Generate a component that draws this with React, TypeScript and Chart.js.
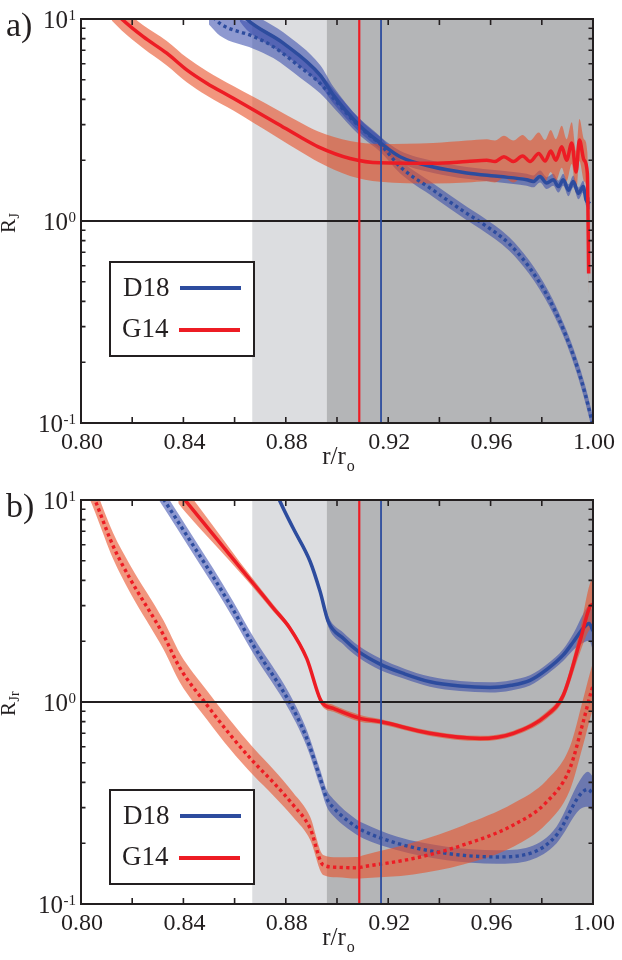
import React, { useEffect, useRef } from "react";
import { Chart, registerables } from "chart.js";
Chart.register(...registerables);

// ---------------- data ----------------
const xMin = 0.8;
const xMax = 1.0;
const yMin = 0.1;
const yMax = 10;
const xTickValues = [0.8, 0.82, 0.84, 0.86, 0.88, 0.9, 0.92, 0.94, 0.96, 0.98, 1.0];
const xLabelValues = [0.8, 0.84, 0.88, 0.92, 0.96, 1.0];
const xLabelTexts = ["0.80", "0.84", "0.88", "0.92", "0.96", "1.00"];
const yDecades = [0.1, 1, 10];
const yExponents = ["-1", "0", "1"];
const yMinorMultipliers = [2, 3, 4, 5, 6, 7, 8, 9];
const seriesNames = ["D18", "G14"];
const lightZone = [0.8669, 0.896];
const darkZone = [0.896, 1.0];
const g14Marker = 0.9087;
const d18Marker = 0.9172;
const unityLevel = 1;

// Panel a) R_J
const aG14SolidR = [0.812, 0.8159, 0.8243, 0.8335, 0.8413, 0.8491, 0.8595, 0.8673, 0.8764, 0.8855, 0.8927, 0.9051, 0.9168, 0.9376, 0.9507, 0.9585, 0.9617, 0.9652, 0.9689, 0.9725, 0.9754, 0.9788, 0.9813, 0.9835, 0.9855, 0.9878, 0.9897, 0.9917, 0.9934, 0.9947, 0.9965, 0.9978, 0.9983];
const aG14SolidV = [11.2, 10, 8.17, 6.77, 5.6, 4.81, 4.05, 3.55, 3.05, 2.61, 2.33, 2.04, 1.94, 1.93, 1.97, 2.0, 1.97, 2.08, 1.97, 2.1, 1.97, 2.16, 1.98, 2.22, 2.0, 2.33, 2.0, 2.43, 1.75, 2.52, 2.0, 1.72, 0.55];
const aG14SolidBand = [1.14, 1.14, 1.14, 1.15, 1.15, 1.15, 1.15, 1.16, 1.17, 1.18, 1.19, 1.22, 1.24, 1.26, 1.27, 1.27, 1.27, 1.27, 1.27, 1.27, 1.27, 1.27, 1.27, 1.27, 1.27, 1.27, 1.27, 1.27, 1.27, 1.27, 1.27, 1.27, 1.27];

const aD18SolidR = [0.862, 0.8647, 0.879, 0.8934, 0.8986, 0.9087, 0.9172, 0.9246, 0.9376, 0.9507, 0.9637, 0.9741, 0.9767, 0.9793, 0.9819, 0.9845, 0.9865, 0.9884, 0.9904, 0.9923, 0.9943, 0.9962, 0.9973, 0.9988];
const aD18SolidV = [11, 10, 7.6, 5.28, 4.2, 2.98, 2.42, 2.08, 1.85, 1.73, 1.66, 1.6, 1.57, 1.66, 1.54, 1.6, 1.48, 1.6, 1.42, 1.57, 1.37, 1.48, 1.27, 1.22];
const aD18SolidBand = [1.13, 1.13, 1.13, 1.12, 1.1, 1.08, 1.07, 1.07, 1.07, 1.07, 1.07, 1.07, 1.07, 1.07, 1.07, 1.07, 1.07, 1.07, 1.07, 1.07, 1.07, 1.07, 1.07, 1.07];

const aD18DotR = [0.85, 0.8543, 0.8673, 0.8751, 0.8855, 0.8934, 0.8986, 0.9087, 0.9172, 0.9246, 0.9376, 0.9507, 0.9559, 0.9673, 0.9751, 0.9829, 0.9891, 0.9938, 0.9969, 0.9998];
const aD18DotV = [10.8, 9.5, 8.2, 7.3, 5.8, 4.8, 4.05, 2.93, 2.38, 1.86, 1.42, 1.09, 0.99, 0.77, 0.59, 0.41, 0.277, 0.19, 0.14, 0.1];
const aD18DotBand = [1.15, 1.15, 1.15, 1.14, 1.13, 1.12, 1.11, 1.1, 1.09, 1.08, 1.08, 1.08, 1.08, 1.08, 1.08, 1.08, 1.08, 1.09, 1.1, 1.1];

// Panel b) R_Jr
const bD18SolidR = [0.875, 0.8775, 0.8829, 0.8895, 0.8934, 0.8966, 0.9025, 0.9083, 0.9168, 0.9263, 0.9363, 0.948, 0.9598, 0.968, 0.9754, 0.982, 0.9884, 0.9925, 0.9962, 0.9985, 1.0];
const bD18SolidV = [12, 10, 7.24, 4.96, 3.52, 2.5, 2.06, 1.78, 1.54, 1.38, 1.26, 1.2, 1.18, 1.21, 1.28, 1.45, 1.71, 2.0, 2.32, 2.45, 2.25];
const bD18SolidBand = [1.03, 1.03, 1.03, 1.03, 1.04, 1.06, 1.07, 1.07, 1.07, 1.06, 1.06, 1.06, 1.06, 1.06, 1.06, 1.06, 1.07, 1.1, 1.18, 1.22, 1.25];

const bG14SolidR = [0.838, 0.8406, 0.8543, 0.8621, 0.8673, 0.8751, 0.8816, 0.8882, 0.894, 0.8986, 0.909, 0.9168, 0.9363, 0.9559, 0.9689, 0.9819, 0.9884, 0.9949, 0.9988, 1.0];
const bG14SolidV = [11.0, 10, 6.14, 4.64, 3.86, 2.92, 2.32, 1.64, 1.0, 0.93, 0.83, 0.8, 0.7, 0.66, 0.7, 0.86, 1.08, 2.0, 2.97, 3.05];
const bG14SolidBand = [1.14, 1.14, 1.09, 1.06, 1.05, 1.04, 1.03, 1.03, 1.04, 1.04, 1.04, 1.03, 1.03, 1.03, 1.03, 1.04, 1.06, 1.14, 1.3, 1.32];

const bD18DotR = [0.8295, 0.8325, 0.8426, 0.8517, 0.8595, 0.8673, 0.8816, 0.8882, 0.8934, 0.896, 0.8986, 0.9077, 0.9103, 0.9233, 0.9429, 0.9624, 0.9754, 0.9858, 0.9949, 0.998, 1.0];
const bD18DotV = [11.5, 10, 6.3, 4.15, 2.85, 1.91, 0.99, 0.66, 0.42, 0.333, 0.3, 0.24, 0.23, 0.2, 0.178, 0.171, 0.178, 0.22, 0.347, 0.37, 0.35];
const bD18DotBand = [1.1, 1.1, 1.1, 1.1, 1.1, 1.1, 1.1, 1.1, 1.1, 1.1, 1.1, 1.09, 1.09, 1.08, 1.08, 1.08, 1.08, 1.1, 1.18, 1.22, 1.22];

const bG14DotR = [0.803, 0.8055, 0.8126, 0.8191, 0.8322, 0.8387, 0.8491, 0.8582, 0.8673, 0.8751, 0.8829, 0.8895, 0.8946, 0.9, 0.9077, 0.9103, 0.9298, 0.9493, 0.9689, 0.9819, 0.991, 0.9962, 0.9995, 1.0];
const bG14DotV = [12, 10, 5.9, 4.09, 2.15, 1.47, 0.97, 0.69, 0.507, 0.4, 0.309, 0.237, 0.156, 0.152, 0.151, 0.153, 0.168, 0.196, 0.246, 0.32, 0.47, 0.8, 1.15, 1.2];
const bG14DotBand = [1.15, 1.15, 1.16, 1.17, 1.18, 1.18, 1.18, 1.18, 1.17, 1.16, 1.15, 1.14, 1.12, 1.12, 1.13, 1.14, 1.2, 1.25, 1.28, 1.28, 1.28, 1.3, 1.3, 1.3];

// ---------------- styles ----------------
const INK = "#231f20";
const BLUE = "#2d4c9e";
const RED = "#ed1c24";
const BLUE_BAND = "rgba(50,70,170,0.55)";
const RED_BAND = "rgba(232,80,40,0.6)";
const LIGHT = "#dcdde0";
const DARK = "#b4b5b7";
const SERIF = '"Liberation Serif", "Times New Roman", Times, serif';

type Series = { r: number[]; v: number[]; band: number[]; color: string; bandColor: string; dotted: boolean };

function buildDatasets(list: Series[]) {
  const ds: any[] = [];
  list.forEach((s) => {
    const hi = s.r.map((x, i) => ({ x, y: s.v[i] * s.band[i] }));
    const lo = s.r.map((x, i) => ({ x, y: s.v[i] / s.band[i] }));
    ds.push({ data: hi, fill: "+1", backgroundColor: s.bandColor, borderWidth: 0, pointRadius: 0, cubicInterpolationMode: "monotone", order: 10, clip: 0 });
    ds.push({ data: lo, fill: false, borderWidth: 0, pointRadius: 0, cubicInterpolationMode: "monotone", order: 10, clip: 0 });
  });
  list.forEach((s) => {
    ds.push({
      data: s.r.map((x, i) => ({ x, y: s.v[i] })),
      fill: false,
      borderColor: s.color,
      borderWidth: s.dotted ? 3.4 : 3.5,
      borderDash: s.dotted ? [3.3, 3.3] : [],
      borderCapStyle: "butt",
      pointRadius: 0,
      cubicInterpolationMode: "monotone",
      order: 1,
      clip: 0,
    });
  });
  return ds;
}

type PanelCfg = {
  tag: string;
  sub: string;
  series: Series[];
  padTop: number;
  padBottom: number;
  legendTop: number; // relative to chart area top
};

function decoPlugin(p: PanelCfg) {
  return {
    id: "deco" + p.tag,
    beforeDraw(chart: any) {
      const { ctx, chartArea: a, scales } = chart;
      const x = scales.x;
      ctx.save();
      ctx.fillStyle = "#fff";
      ctx.fillRect(0, 0, chart.width, chart.height);
      const l0 = x.getPixelForValue(lightZone[0]);
      const l1 = x.getPixelForValue(lightZone[1]);
      ctx.fillStyle = LIGHT;
      ctx.fillRect(l0, a.top, l1 - l0, a.bottom - a.top);
      const d0 = x.getPixelForValue(darkZone[0]);
      const d1 = x.getPixelForValue(darkZone[1]);
      ctx.fillStyle = DARK;
      ctx.fillRect(d0, a.top, d1 - d0, a.bottom - a.top);
      ctx.restore();
    },
    afterDatasetsDraw(chart: any) {
      const { ctx, chartArea: a, scales } = chart;
      const x = scales.x;
      const y = scales.y;
      ctx.save();
      // unity line
      const y1 = y.getPixelForValue(unityLevel);
      ctx.strokeStyle = INK;
      ctx.lineWidth = 2;
      ctx.beginPath();
      ctx.moveTo(a.left, y1);
      ctx.lineTo(a.right, y1);
      ctx.stroke();
      // marker lines
      const mk = (v: number, c: string, w: number) => {
        const px = x.getPixelForValue(v);
        ctx.strokeStyle = c;
        ctx.lineWidth = w;
        ctx.beginPath();
        ctx.moveTo(px, a.top);
        ctx.lineTo(px, a.bottom);
        ctx.stroke();
      };
      mk(g14Marker, RED, 2.2);
      mk(d18Marker, BLUE, 1.8);
      // ticks
      ctx.strokeStyle = INK;
      ctx.lineWidth = 1.6;
      xTickValues.forEach((v) => {
        const px = x.getPixelForValue(v);
        ctx.beginPath();
        ctx.moveTo(px, a.bottom);
        ctx.lineTo(px, a.bottom - 6);
        ctx.moveTo(px, a.top);
        ctx.lineTo(px, a.top + 6);
        ctx.stroke();
      });
      [0.1, 1].forEach((dec) => {
        yMinorMultipliers.forEach((m) => {
          const py = y.getPixelForValue(dec * m);
          ctx.beginPath();
          ctx.moveTo(a.left, py);
          ctx.lineTo(a.left + 4.5, py);
          ctx.moveTo(a.right, py);
          ctx.lineTo(a.right - 4.5, py);
          ctx.stroke();
        });
      });
      // frame
      ctx.lineWidth = 2;
      ctx.strokeRect(a.left, a.top, a.right - a.left, a.bottom - a.top);
      // x labels
      ctx.fillStyle = INK;
      ctx.font = "24px " + SERIF;
      ctx.textAlign = "center";
      ctx.textBaseline = "alphabetic";
      xLabelValues.forEach((v, i) => {
        ctx.fillText(xLabelTexts[i], x.getPixelForValue(v) + 1, a.bottom + 26);
      });
      // x title r/r_o
      ctx.font = "25px " + SERIF;
      ctx.textAlign = "left";
      const t1 = "r/r";
      const w1 = ctx.measureText(t1).width;
      const cx = 338;
      ctx.fillText(t1, cx - w1 / 2 - 4, a.bottom + 41);
      ctx.font = "16px " + SERIF;
      ctx.fillText("o", cx + w1 / 2 - 3, a.bottom + 48);
      // y labels
      yDecades.forEach((v, i) => {
        const py = y.getPixelForValue(v);
        ctx.font = "15px " + SERIF;
        const we = ctx.measureText(yExponents[i]).width;
        const right = 76;
        ctx.textAlign = "left";
        ctx.fillText(yExponents[i], right - we, py + 0.5);
        ctx.font = "25px " + SERIF;
        ctx.textAlign = "right";
        ctx.fillText("10", right - we - 0.5, py + 8.5);
      });
      // y title R_sub (rotated)
      ctx.save();
      ctx.translate(15, y1 + (p.sub.length > 1 ? 14 : 12));
      ctx.rotate(-Math.PI / 2);
      ctx.textAlign = "left";
      ctx.font = "21px " + SERIF;
      ctx.fillText("R", 0, 0);
      const wr = ctx.measureText("R").width;
      ctx.font = "14px " + SERIF;
      ctx.fillText(p.sub, wr + 0.5, 4);
      ctx.restore();
      // panel tag
      ctx.font = "34px " + SERIF;
      ctx.textAlign = "left";
      ctx.fillText(p.tag + ")", 6, a.top + 17);
      // legend
      const L = a.left + 29;
      const R = a.left + 173;
      const T = a.top + p.legendTop;
      const B = T + 94;
      ctx.fillStyle = "#fff";
      ctx.fillRect(L, T, R - L, B - T);
      ctx.strokeStyle = INK;
      ctx.lineWidth = 2;
      ctx.strokeRect(L, T, R - L, B - T);
      ctx.fillStyle = INK;
      ctx.font = "27px " + SERIF;
      ctx.textAlign = "left";
      ctx.fillText(seriesNames[0], L + 13, T + 34);
      ctx.fillText(seriesNames[1], L + 12, T + 75);
      ctx.lineWidth = 4;
      ctx.strokeStyle = BLUE;
      ctx.beginPath();
      ctx.moveTo(L + 70, T + 26);
      ctx.lineTo(L + 131, T + 26);
      ctx.stroke();
      ctx.strokeStyle = RED;
      ctx.beginPath();
      ctx.moveTo(L + 69, T + 68);
      ctx.lineTo(L + 130, T + 68);
      ctx.stroke();
      ctx.restore();
    },
  };
}

const panelA: PanelCfg = {
  tag: "a",
  sub: "J",
  padTop: 19,
  padBottom: 57,
  legendTop: 243,
  series: [
    { r: aG14SolidR, v: aG14SolidV, band: aG14SolidBand, color: RED, bandColor: RED_BAND, dotted: false },
    { r: aD18DotR, v: aD18DotV, band: aD18DotBand, color: BLUE, bandColor: BLUE_BAND, dotted: true },
    { r: aD18SolidR, v: aD18SolidV, band: aD18SolidBand, color: BLUE, bandColor: BLUE_BAND, dotted: false },
  ],
};

const panelB: PanelCfg = {
  tag: "b",
  sub: "Jr",
  padTop: 20,
  padBottom: 56,
  legendTop: 290,
  series: [
    { r: bG14DotR, v: bG14DotV, band: bG14DotBand, color: RED, bandColor: RED_BAND, dotted: true },
    { r: bG14SolidR, v: bG14SolidV, band: bG14SolidBand, color: RED, bandColor: RED_BAND, dotted: false },
    { r: bD18DotR, v: bD18DotV, band: bD18DotBand, color: BLUE, bandColor: BLUE_BAND, dotted: true },
    { r: bD18SolidR, v: bD18SolidV, band: bD18SolidBand, color: BLUE, bandColor: BLUE_BAND, dotted: false },
  ],
};

function Panel({ cfg }: { cfg: PanelCfg }) {
  const ref = useRef<HTMLCanvasElement>(null);
  useEffect(() => {
    let alive = true;
    const chart = new Chart(ref.current as HTMLCanvasElement, {
      type: "line",
      data: { datasets: buildDatasets(cfg.series) },
      options: {
        animation: false,
        responsive: false,
        maintainAspectRatio: false,
        events: [],
        layout: { padding: { left: 81, right: 29, top: cfg.padTop, bottom: cfg.padBottom } },
        plugins: { legend: { display: false }, tooltip: { enabled: false }, title: { display: false } },
        scales: {
          x: { type: "linear", min: xMin, max: xMax, display: false },
          y: { type: "logarithmic", min: yMin, max: yMax, display: false },
        },
      } as any,
      plugins: [decoPlugin(cfg)],
    });
    const fonts = (document as any).fonts;
    if (fonts && fonts.load) {
      Promise.all([
        fonts.load('24px "Liberation Serif"'),
        fonts.load('15px "Liberation Serif"'),
      ])
        .catch(() => null)
        .then(() => {
          if (alive) chart.draw();
        });
    }
    return () => {
      alive = false;
      chart.destroy();
    };
  }, [cfg]);
  return <canvas ref={ref} width={622} height={480} style={{ display: "block", width: 622, height: 480 }} />;
}

export default function App() {
  return (
    <div style={{ position: "fixed", left: 0, top: 0, width: 622, height: 960, background: "#fff", fontFamily: '"Liberation Serif", serif' }}>
      <span style={{ position: "absolute", left: -9999, top: 0, fontFamily: '"Liberation Serif"', fontSize: 24 }}>0.80 D18 G14</span>
      <Panel cfg={panelA} />
      <Panel cfg={panelB} />
    </div>
  );
}
